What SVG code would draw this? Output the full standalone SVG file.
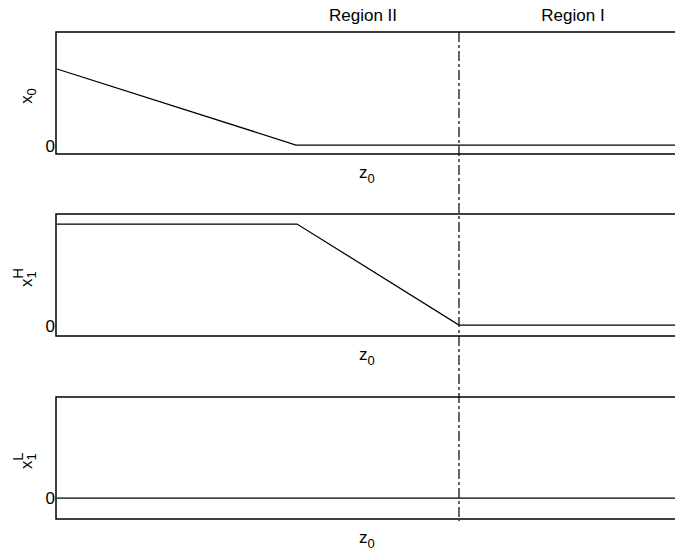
<svg xmlns="http://www.w3.org/2000/svg" width="675" height="556" viewBox="0 0 675 556">
<style>
text{font-family:"Liberation Sans",Arial,sans-serif;font-size:17px;fill:#000}
.sub{font-size:13px}
.sup{font-size:15px}
.frame{fill:none;stroke:#000;stroke-width:1.5}
.data{fill:none;stroke:#000;stroke-width:1.25}
.div{fill:none;stroke:#000;stroke-width:1.2;stroke-dasharray:10,3,3,3}
</style>
<rect width="675" height="556" fill="#fff"/>
<g id="labels-top">
<text x="363" y="21" text-anchor="middle">Region II</text>
<text x="573" y="21" text-anchor="middle">Region I</text>
</g>
<g id="panel1">
<path class="frame" d="M680,32 H56 V154 H680"/>
<path class="data" d="M57,69 L296,145 H675"/>
<text x="55" y="152" text-anchor="end">0</text>
<text transform="translate(32,96) rotate(-90)" text-anchor="middle">x<tspan class="sub" dy="4">0</tspan></text>
<text x="359" y="178">z<tspan class="sub" dy="5">0</tspan></text>
</g>
<g id="panel2">
<path class="frame" d="M680,214 H56 V336 H680"/>
<path class="data" d="M57,224 H297 L459,325 H675"/>
<text x="55" y="332" text-anchor="end">0</text>
<text transform="translate(32,287) rotate(-90)">x<tspan class="sub" dy="4">1</tspan><tspan class="sup" dx="-7.5" dy="-13">H</tspan></text>
<text x="359" y="360">z<tspan class="sub" dy="5">0</tspan></text>
</g>
<g id="panel3">
<path class="frame" d="M680,397 H56 V519 H680"/>
<path class="data" d="M57,498 H675"/>
<text x="55" y="504" text-anchor="end">0</text>
<text transform="translate(32,469) rotate(-90)">x<tspan class="sub" dy="4">1</tspan><tspan class="sup" dx="-7.5" dy="-13">L</tspan></text>
<text x="359" y="543">z<tspan class="sub" dy="5">0</tspan></text>
</g>
<g id="connectors">
<line class="div" x1="459" y1="32" x2="459" y2="521"/>
</g>
</svg>
